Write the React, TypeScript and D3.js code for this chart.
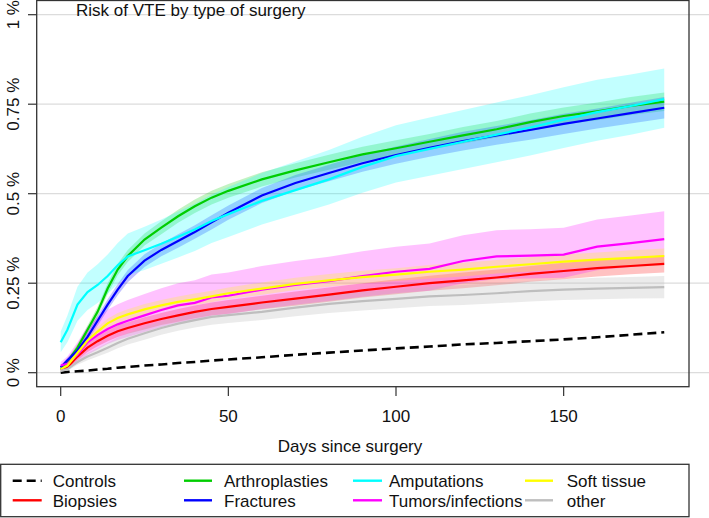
import React from "react";
import * as d3 from "d3";

const W = 709;
const H = 518;

// ---- data ----
const days = [0, 2, 5, 8, 11, 14, 17, 20, 25, 30, 35, 40, 45, 50, 60, 70, 80, 90, 100, 110, 120, 130, 140, 150, 160, 170, 180];

const controls = [0, 0.002, 0.004, 0.006, 0.009, 0.011, 0.014, 0.016, 0.02, 0.023, 0.027, 0.03, 0.034, 0.037, 0.043, 0.05, 0.056, 0.062, 0.068, 0.073, 0.079, 0.083, 0.088, 0.093, 0.099, 0.106, 0.113];
const biopsies = [0.008, 0.015, 0.045, 0.07, 0.088, 0.103, 0.116, 0.125, 0.138, 0.15, 0.16, 0.17, 0.178, 0.184, 0.196, 0.207, 0.218, 0.23, 0.24, 0.25, 0.258, 0.266, 0.276, 0.284, 0.292, 0.298, 0.304];
const arthroplasties = [0.01, 0.03, 0.07, 0.12, 0.17, 0.235, 0.288, 0.326, 0.372, 0.405, 0.437, 0.465, 0.489, 0.508, 0.54, 0.565, 0.588, 0.61, 0.627, 0.645, 0.663, 0.68, 0.7, 0.717, 0.73, 0.745, 0.757];
const fractures = [0.015, 0.035, 0.062, 0.1, 0.145, 0.19, 0.232, 0.27, 0.313, 0.343, 0.368, 0.393, 0.42, 0.447, 0.495, 0.53, 0.558, 0.585, 0.608, 0.628, 0.647, 0.663, 0.678, 0.695, 0.71, 0.725, 0.74];
const amputations = [0.085, 0.12, 0.19, 0.225, 0.245, 0.27, 0.3, 0.325, 0.342, 0.36, 0.38, 0.4, 0.424, 0.443, 0.48, 0.51, 0.54, 0.575, 0.605, 0.625, 0.645, 0.665, 0.685, 0.707, 0.728, 0.745, 0.764];
const tumors = [0.02, 0.025, 0.05, 0.085, 0.105, 0.122, 0.135, 0.145, 0.16, 0.175, 0.188, 0.195, 0.21, 0.215, 0.232, 0.245, 0.256, 0.27, 0.282, 0.29, 0.312, 0.325, 0.327, 0.33, 0.352, 0.362, 0.373];
const softTissue = [0.01, 0.02, 0.055, 0.09, 0.115, 0.138, 0.153, 0.163, 0.177, 0.188, 0.198, 0.205, 0.213, 0.222, 0.235, 0.248, 0.258, 0.267, 0.274, 0.282, 0.288, 0.296, 0.303, 0.31, 0.316, 0.321, 0.326];
const other = [0.005, 0.01, 0.03, 0.045, 0.057, 0.07, 0.083, 0.095, 0.11, 0.125, 0.137, 0.147, 0.156, 0.161, 0.17, 0.182, 0.192, 0.2, 0.206, 0.213, 0.217, 0.222, 0.228, 0.232, 0.235, 0.237, 0.239];

// confidence band offsets (below / above the estimate)
const biopsiesCI = [0.004, 0.006, 0.01, 0.012, 0.014, 0.015, 0.016, 0.016, 0.017, 0.017, 0.018, 0.018, 0.018, 0.019, 0.019, 0.02, 0.02, 0.02, 0.021, 0.021, 0.022, 0.022, 0.022, 0.023, 0.023, 0.023, 0.024];
const arthroCI = [0.004, 0.007, 0.01, 0.012, 0.014, 0.015, 0.016, 0.017, 0.017, 0.018, 0.018, 0.019, 0.019, 0.019, 0.02, 0.02, 0.021, 0.021, 0.022, 0.022, 0.023, 0.023, 0.024, 0.024, 0.025, 0.025, 0.026];
const fracturesCI = [0.004, 0.007, 0.01, 0.012, 0.014, 0.015, 0.016, 0.017, 0.018, 0.018, 0.019, 0.019, 0.02, 0.02, 0.021, 0.022, 0.023, 0.024, 0.024, 0.025, 0.026, 0.026, 0.027, 0.028, 0.028, 0.029, 0.03];
const amputCIUp = [0.03, 0.04, 0.05, 0.055, 0.058, 0.06, 0.062, 0.064, 0.066, 0.068, 0.07, 0.072, 0.074, 0.076, 0.078, 0.08, 0.082, 0.084, 0.086, 0.088, 0.089, 0.09, 0.09, 0.09, 0.09, 0.088, 0.086];
const amputCIDown = [0.028, 0.035, 0.045, 0.05, 0.05, 0.05, 0.052, 0.053, 0.055, 0.056, 0.058, 0.06, 0.062, 0.064, 0.066, 0.068, 0.07, 0.072, 0.074, 0.075, 0.076, 0.077, 0.078, 0.079, 0.08, 0.08, 0.08];
const tumorsCIUp = [0.01, 0.02, 0.035, 0.045, 0.05, 0.054, 0.056, 0.058, 0.06, 0.061, 0.062, 0.063, 0.064, 0.065, 0.066, 0.067, 0.068, 0.069, 0.07, 0.071, 0.072, 0.073, 0.074, 0.075, 0.076, 0.077, 0.078];
const tumorsCIDown = [0.008, 0.015, 0.025, 0.035, 0.04, 0.042, 0.044, 0.045, 0.046, 0.047, 0.048, 0.05, 0.051, 0.052, 0.054, 0.055, 0.056, 0.058, 0.06, 0.061, 0.062, 0.063, 0.064, 0.065, 0.066, 0.067, 0.068];
const softCI = [0.004, 0.006, 0.009, 0.011, 0.012, 0.013, 0.014, 0.014, 0.015, 0.015, 0.015, 0.016, 0.016, 0.016, 0.017, 0.017, 0.018, 0.018, 0.018, 0.019, 0.019, 0.019, 0.02, 0.02, 0.02, 0.021, 0.021];
const otherCI = [0.003, 0.005, 0.008, 0.01, 0.012, 0.014, 0.015, 0.016, 0.018, 0.019, 0.02, 0.021, 0.022, 0.022, 0.023, 0.024, 0.025, 0.026, 0.026, 0.027, 0.028, 0.028, 0.029, 0.029, 0.03, 0.03, 0.031];

const seriesNames = ["Controls", "Biopsies", "Arthroplasties", "Fractures", "Amputations", "Tumors/infections", "Soft tissue", "other"];
const seriesColors = ["#000000", "#FF0000", "#00CD00", "#0000FF", "#00FFFF", "#FF00FF", "#FFFF00", "#BEBEBE"];
const seriesValues = [controls, biopsies, arthroplasties, fractures, amputations, tumors, softTissue, other];
const seriesDown = [null, biopsiesCI, arthroCI, fracturesCI, amputCIDown, tumorsCIDown, softCI, otherCI];
const seriesUp = [null, biopsiesCI, arthroCI, fracturesCI, amputCIUp, tumorsCIUp, softCI, otherCI];

const xTicks = [0, 50, 100, 150];
const yTicks = [0, 0.25, 0.5, 0.75, 1];
const yTickLabels = ["0 %", "0.25 %", "0.5 %", "0.75 %", "1 %"];

const title = "Risk of VTE by type of surgery";
const xTitle = "Days since surgery";

// ---- layout ----
const box = { left: 36.7, right: 689, top: 0.5, bottom: 386.7 };
const x = d3.scaleLinear().domain([0, 180]).range([60.7, 60.7 + 180 * 3.353]);
const y = d3.scaleLinear().domain([0, 1]).range([372.7, 14.7]);

const FONT = "'Liberation Sans', Arial, Helvetica, sans-serif";

const legendCols = [
  { lx0: 12.7, lx1: 41.7, tx: 52.7 },
  { lx0: 184, lx1: 212, tx: 224 },
  { lx0: 353, lx1: 382, tx: 389 },
  { lx0: 525, lx1: 553, tx: 566.7 },
];
const legendRows = [{ ly: 480.7, ty: 486.5 }, { ly: 500.3, ty: 506.5 }];

export default function App() {
  const line = d3
    .line<number>()
    .x((_, i) => x(days[i]))
    .y((v) => y(v))
    .curve(d3.curveLinear);

  const bands = seriesValues.map((vals, s) => {
    const dn = seriesDown[s];
    const up = seriesUp[s];
    if (!dn || !up) return null;
    const area = d3
      .area<number>()
      .x((_, i) => x(days[i]))
      .y0((v, i) => y(Math.max(0, v - dn[i])))
      .y1((v, i) => y(v + up[i]))
      .curve(d3.curveLinear);
    return area(vals);
  });

  return (
    <svg
      width={W}
      height={H}
      style={{ position: "absolute", left: 0, top: 0, background: "#fff" }}
      fontFamily={FONT}
    >
      <rect x={0} y={0} width={W} height={H} fill="#fff" />
      {/* gridlines */}
      {yTicks.map((t) => (
        <line key={"g" + t} x1={box.left} x2={W} y1={y(t)} y2={y(t)} stroke="#dcdcdc" strokeWidth={1.2} />
      ))}
      {/* bands */}
      {bands.map((d, s) =>
        d ? <path key={"b" + s} d={d} fill={seriesColors[s]} fillOpacity={s === 7 ? 0.3 : 0.24} stroke="none" /> : null
      )}
      {/* lines */}
      {seriesValues.map((vals, s) => (
        <path
          key={"l" + s}
          d={line(vals) || ""}
          fill="none"
          stroke={seriesColors[s]}
          strokeWidth={s === 0 ? 2.6 : 2.2}
          strokeDasharray={s === 0 ? "9,5" : undefined}
        />
      ))}
      {/* frame */}
      <rect
        x={box.left}
        y={box.top}
        width={box.right - box.left}
        height={box.bottom - box.top}
        fill="none"
        stroke="#333"
        strokeWidth={1.3}
      />
      {/* y axis */}
      {yTicks.map((t, i) => (
        <g key={"y" + t}>
          <line x1={28} x2={box.left} y1={y(t)} y2={y(t)} stroke="#333" strokeWidth={1.2} />
          <text
            transform={`translate(18.5,${y(t)}) rotate(-90)`}
            textAnchor="middle"
            fontSize={17}
            fill="#111"
          >
            {yTickLabels[i]}
          </text>
        </g>
      ))}
      {/* x axis */}
      {xTicks.map((t) => (
        <g key={"x" + t}>
          <line x1={x(t)} x2={x(t)} y1={box.bottom} y2={396} stroke="#333" strokeWidth={1.2} />
          <text x={x(t)} y={421.5} textAnchor="middle" fontSize={17} fill="#111">
            {t}
          </text>
        </g>
      ))}
      <text x={350} y={451.5} textAnchor="middle" fontSize={17} fill="#111">
        {xTitle}
      </text>
      <text x={76} y={15.5} fontSize={17} fill="#111">
        {title}
      </text>
      {/* legend */}
      <rect x={0.7} y={464.3} width={688.3} height={52.4} fill="#fff" stroke="#333" strokeWidth={1.3} />
      {seriesNames.map((name, s) => {
        const col = legendCols[Math.floor(s / 2)];
        const row = legendRows[s % 2];
        return (
          <g key={"lg" + s}>
            <line
              x1={col.lx0}
              x2={col.lx1}
              y1={row.ly}
              y2={row.ly}
              stroke={seriesColors[s]}
              strokeWidth={s === 0 ? 2.6 : 2.4}
              strokeDasharray={s === 0 ? "9,5" : undefined}
            />
            <text x={col.tx} y={row.ty} fontSize={17} fill="#111">
              {name}
            </text>
          </g>
        );
      })}
    </svg>
  );
}
